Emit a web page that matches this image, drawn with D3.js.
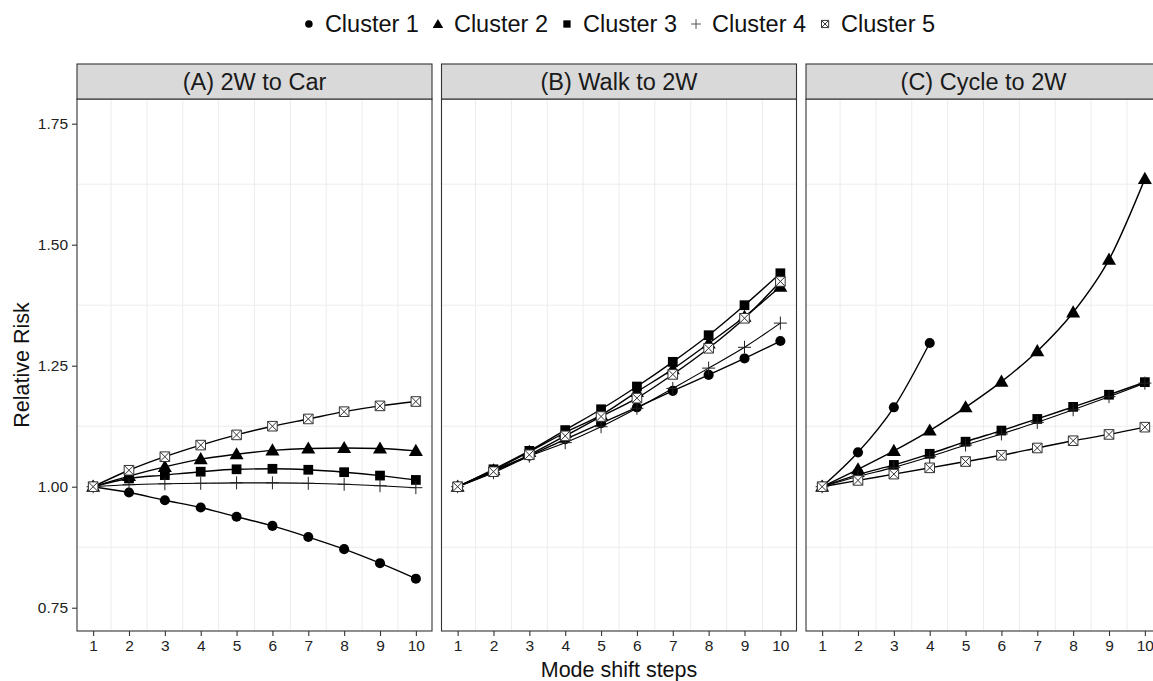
<!DOCTYPE html>
<html>
<head>
<meta charset="utf-8">
<script src="https://cdn.jsdelivr.net/npm/d3@7"></script>
<style>
  body { margin: 0; background: #fff; }
  text { font-family: "Liberation Sans", Arial, sans-serif; }
</style>
</head>
<body>
<div id="chart"></div>
<script>
// Data
var steps = [1, 2, 3, 4, 5, 6, 7, 8, 9, 10];
var clusters = ["Cluster 1", "Cluster 2", "Cluster 3", "Cluster 4", "Cluster 5"];
var panels = ["(A) 2W to Car", "(B) Walk to 2W", "(C) Cycle to 2W"];
var yTicks = [0.75, 1.00, 1.25, 1.50, 1.75];

// one row per cluster, one value per step
var twoWToCar = [
  [1, 0.988, 0.972, 0.957, 0.938, 0.919, 0.896, 0.871, 0.842, 0.810],
  [1, 1.022, 1.041, 1.057, 1.067, 1.075, 1.079, 1.080, 1.079, 1.074],
  [1, 1.017, 1.024, 1.031, 1.036, 1.037, 1.035, 1.030, 1.023, 1.014],
  [1, 1.004, 1.006, 1.007, 1.008, 1.008, 1.007, 1.005, 1.002, 0.998],
  [1, 1.034, 1.062, 1.086, 1.107, 1.125, 1.140, 1.155, 1.167, 1.176]
];
var walkTo2W = [
  [1, 1.033, 1.064, 1.098, 1.131, 1.164, 1.198, 1.231, 1.265, 1.301],
  [1, 1.034, 1.072, 1.112, 1.148, 1.196, 1.243, 1.296, 1.351, 1.413],
  [1, 1.036, 1.074, 1.117, 1.160, 1.207, 1.258, 1.313, 1.375, 1.441],
  [1, 1.029, 1.063, 1.091, 1.124, 1.162, 1.203, 1.245, 1.288, 1.338],
  [1, 1.031, 1.066, 1.105, 1.145, 1.183, 1.232, 1.286, 1.348, 1.424]
];
var cycleTo2W = [
  [1, 1.071, 1.164, 1.297, null, null, null, null, null, null],
  [1, 1.036, 1.074, 1.116, 1.164, 1.217, 1.280, 1.360, 1.469, 1.636],
  [1, 1.025, 1.045, 1.068, 1.093, 1.116, 1.140, 1.165, 1.190, 1.216],
  [1, 1.021, 1.040, 1.062, 1.086, 1.109, 1.133, 1.159, 1.186, 1.214],
  [1, 1.013, 1.026, 1.039, 1.052, 1.065, 1.080, 1.095, 1.108, 1.123]
];
var panelValues = [twoWToCar, walkTo2W, cycleTo2W];

// Layout
var width = 1153, height = 681;
var panelLeft = 77, panelWidth = 355, panelGap = 9.5;
var stripTop = 64, plotTop = 99, plotBottom = 631;

var svg = d3.select("#chart").append("svg")
  .attr("width", width)
  .attr("height", height);

var xScale = d3.scaleLinear().domain([0.55, 10.45]).range([0, panelWidth]);
var yScale = d3.scaleLinear().domain([0.7019, 1.801]).range([plotBottom, plotTop]);

// marker shapes
function marker(sel, k, big) {
  var s = big ? 1 : 0.75;
  if (k === 0) {
    sel.append("path").attr("d", d3.symbol(d3.symbolCircle, 80 * s * s)()).attr("fill", "#000");
  } else if (k === 1) {
    sel.append("path").attr("d", d3.symbol(d3.symbolTriangle, 85 * s * s)())
      .attr("transform", "translate(0,1)").attr("fill", "#000");
  } else if (k === 2) {
    sel.append("path").attr("d", d3.symbol(d3.symbolSquare, 95 * s * s)()).attr("fill", "#000");
  } else if (k === 3) {
    var h = 6.5 * s;
    sel.append("path").attr("d", "M" + (-h) + ",0H" + h + "M0," + (-h) + "V" + h)
      .attr("stroke", big ? "#222" : "#555").attr("stroke-width", 1).attr("fill", "none");
  } else {
    var a = 4.8 * s;
    sel.append("path")
      .attr("d", "M" + (-a) + "," + (-a) + "H" + a + "V" + a + "H" + (-a) + "Z" +
        "M" + (-a) + "," + (-a) + "L" + a + "," + a + "M" + a + "," + (-a) + "L" + (-a) + "," + a)
      .attr("stroke", "#333").attr("stroke-width", 1).attr("fill", big ? "#fff" : "none");
  }
}

var line = d3.line()
  .defined(function(d) { return d.v !== null; })
  .x(function(d) { return xScale(d.step); })
  .y(function(d) { return yScale(d.v); })
  .curve(d3.curveMonotoneX);

panels.forEach(function(title, p) {
  var x0 = panelLeft + p * (panelWidth + panelGap);
  var g = svg.append("g").attr("transform", "translate(" + x0 + ",0)");

  // minor grid lines
  g.selectAll(".vgrid")
    .data(d3.range(1.5, 10, 1))
    .enter().append("line")
    .attr("x1", function(d) { return xScale(d); })
    .attr("x2", function(d) { return xScale(d); })
    .attr("y1", plotTop).attr("y2", plotBottom)
    .attr("stroke", "#ececec").attr("stroke-width", 1);

  g.selectAll(".hgrid")
    .data([0.875, 1.125, 1.375, 1.625])
    .enter().append("line")
    .attr("x1", 0).attr("x2", panelWidth)
    .attr("y1", function(d) { return yScale(d); })
    .attr("y2", function(d) { return yScale(d); })
    .attr("stroke", "#ececec").attr("stroke-width", 1);

  // series
  panelValues[p].forEach(function(vals, k) {
    var pts = steps.map(function(s, i) { return { step: s, v: vals[i] }; });
    g.append("path")
      .datum(pts)
      .attr("d", line)
      .attr("fill", "none")
      .attr("stroke", "#000")
      .attr("stroke-width", k === 3 ? 1.1 : 1.4);
  });
  panelValues[p].forEach(function(vals, k) {
    var pts = steps.map(function(s, i) { return { step: s, v: vals[i] }; })
      .filter(function(d) { return d.v !== null; });
    g.selectAll(".pt" + k)
      .data(pts)
      .enter().append("g")
      .attr("transform", function(d) { return "translate(" + xScale(d.step) + "," + yScale(d.v) + ")"; })
      .each(function() { marker(d3.select(this), k, true); });
  });

  // panel border
  g.append("rect")
    .attr("x", 0).attr("y", plotTop)
    .attr("width", panelWidth).attr("height", plotBottom - plotTop)
    .attr("fill", "none").attr("stroke", "#333").attr("stroke-width", 1.1);

  // strip
  g.append("rect")
    .attr("x", 0).attr("y", stripTop)
    .attr("width", panelWidth).attr("height", plotTop - stripTop)
    .attr("fill", "#d9d9d9").attr("stroke", "#333").attr("stroke-width", 1.1);
  g.append("text")
    .attr("x", panelWidth / 2).attr("y", (stripTop + plotTop) / 2)
    .attr("dy", "0.36em")
    .attr("text-anchor", "middle")
    .attr("font-size", 23.5)
    .attr("fill", "#1a1a1a")
    .text(title);

  // x axis
  var xAxis = g.append("g")
    .attr("transform", "translate(0," + plotBottom + ")")
    .call(d3.axisBottom(xScale).tickValues(steps).tickSize(5).tickPadding(4).tickFormat(d3.format("d")));
  xAxis.select(".domain").remove();
  xAxis.selectAll("line").attr("stroke", "#333").attr("stroke-width", 1.1);
  xAxis.selectAll("text").attr("font-size", 15.5).attr("fill", "#222")
    .style("font-family", "Liberation Sans, Arial, sans-serif");

  // y axis on the first panel only
  if (p === 0) {
    var yAxis = g.append("g")
      .call(d3.axisLeft(yScale).tickValues(yTicks).tickSize(5).tickPadding(4).tickFormat(d3.format(".2f")));
    yAxis.select(".domain").remove();
    yAxis.selectAll("line").attr("stroke", "#333").attr("stroke-width", 1.1);
    yAxis.selectAll("text").attr("font-size", 15.5).attr("fill", "#222")
      .style("font-family", "Liberation Sans, Arial, sans-serif");
  }
});

// axis titles
var centreX = panelLeft + (3 * panelWidth + 2 * panelGap) / 2;
svg.append("text")
  .attr("x", centreX).attr("y", 677)
  .attr("text-anchor", "middle")
  .attr("font-size", 21.5)
  .attr("fill", "#111")
  .text("Mode shift steps");

svg.append("text")
  .attr("transform", "translate(29," + (plotTop + plotBottom) / 2 + ") rotate(-90)")
  .attr("text-anchor", "middle")
  .attr("font-size", 21.5)
  .attr("fill", "#111")
  .text("Relative Risk");

// legend, centred above the panels
var legend = svg.append("g");
var lx = 0;
clusters.forEach(function(name, k) {
  var item = legend.append("g").attr("transform", "translate(" + lx + ",0)");
  var m = item.append("g").attr("transform", "translate(6,0)");
  marker(m, k, false);
  var t = item.append("text")
    .attr("x", 22).attr("dy", "0.36em")
    .attr("font-size", 23.5)
    .attr("fill", "#111")
    .text(name);
  lx += 22 + t.node().getComputedTextLength() + 13;
});
var legendWidth = lx - 13;
legend.attr("transform", "translate(" + (centreX - legendWidth / 2) + ",24)");
</script>
</body>
</html>
